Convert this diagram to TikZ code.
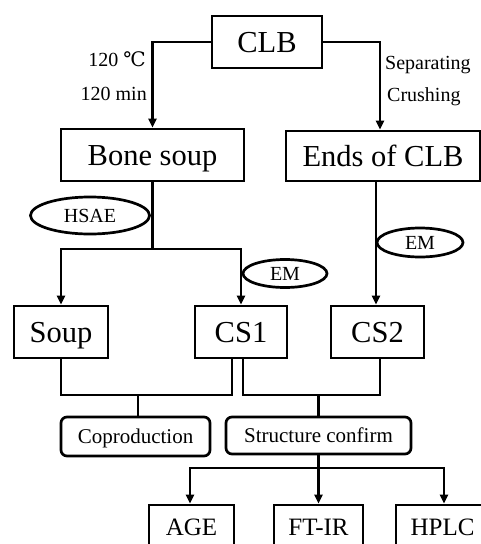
\documentclass[tikz,border=0pt]{standalone}
\usepackage{fontspec}
\setmainfont{Liberation Serif}
\newfontfamily\djv{DejaVu Serif}
\usetikzlibrary{arrows.meta,shapes.geometric,calc}
\tikzset{
  ln/.style={line width=2.7pt},
  arr/.style={ln,-{Triangle[length=9pt,width=8pt]}},
  bigbox/.style={draw,ln,rectangle,inner sep=0pt,text height=20pt,text depth=0pt,font=\fontsize{30.5}{34}\selectfont},
  botbox/.style={draw,ln,rectangle,inner sep=0pt,text height=16.5pt,text depth=0pt,font=\fontsize{25}{28}\selectfont},
  rbox/.style={draw,ln,rectangle,rounded corners=6pt,inner sep=0pt,text height=14pt,text depth=0pt,font=\fontsize{21}{24}\selectfont},
  oval/.style={draw,ln,ellipse,inner sep=0pt,text height=13.2pt,text depth=0pt,font=\fontsize{20}{24}\selectfont},
  lbl/.style={inner sep=0pt,text height=13.2pt,text depth=0pt,font=\fontsize{20}{24}\selectfont}
}
\begin{document}
\begin{tikzpicture}[x=1pt,y=-1pt]
\useasboundingbox (0,0) rectangle (481,544);
\clip (0,0) rectangle (481,544);
% boxes
\node[bigbox,minimum width=110pt,minimum height=52pt] (clb) at (267,42) {CLB};
\node[bigbox,minimum width=183pt,minimum height=52pt] (bone) at (152.5,155) {Bone soup};
\node[bigbox,minimum width=194pt,minimum height=50pt] (ends) at (383,156) {Ends of CLB};
\node[bigbox,minimum width=94pt,minimum height=52pt] (soup) at (61,332) {Soup};
\node[bigbox,minimum width=92pt,minimum height=52pt] (cs1) at (241,332) {CS1};
\node[bigbox,minimum width=93pt,minimum height=52pt] (cs2) at (377.5,332) {CS2};
\node[rbox,minimum width=149pt,minimum height=39pt] (copro) at (135.5,436.5) {Coproduction};
\node[rbox,minimum width=185pt,minimum height=37pt] (struct) at (318.5,435.5) {Structure confirm};
\node[botbox,minimum width=85pt,minimum height=44pt] (age) at (191.5,527) {AGE};
\node[botbox,minimum width=89pt,minimum height=44pt] (ftir) at (318.5,527) {FT-IR};
\node[botbox,minimum width=93pt,minimum height=44pt] (hplc) at (442.5,527) {HPLC};
% labels
\node[lbl,anchor=east] (t1) at (146,60) {120 {\djv ℃}};
\node[lbl,anchor=east] (t2) at (147,94) {120 min};
\node[lbl,anchor=west] (t3) at (385,63) {Separating};
\node[lbl,anchor=west] (t4) at (387,95) {Crushing};
% connectors top
\draw[arr] (clb.west) -| (bone.north);
\coordinate (er) at ([xshift=-3pt]ends.north);
\draw[arr] (clb.east) -| (er);
\coordinate (j1) at (bone.south |- 0,249);
\draw[ln] (bone.south) -- (j1);
\draw[arr] (j1) -| (soup.north);
\draw[arr] (j1) -| (cs1.north);
\coordinate (e2) at (cs2.north |- ends.south);
\draw[arr] ([xshift=-1.5pt]e2) -- ([xshift=-1.5pt]cs2.north);
% ovals
\node[oval,minimum width=119pt,minimum height=37pt] (hsae) at (90,215.5) {HSAE};
\node[oval,minimum width=84pt,minimum height=28pt] (em1) at (285,273.5) {EM};
\node[oval,minimum width=86pt,minimum height=29pt] (em2) at (420,242.5) {EM};
% bottom brackets
\coordinate (c1a) at ([xshift=-9pt]cs1.south);
\coordinate (c1b) at ([xshift=2pt]cs1.south);
\coordinate (c2) at ([xshift=2.5pt]cs2.south);
\draw[ln] (soup.south) -- (soup.south |- 0,395) -- (c1a |- 0,395) -- (c1a);
\draw[ln] (c1b) -- (c1b |- 0,395) -- (c2 |- 0,395) -- (c2);
\coordinate (k1) at ([xshift=2.5pt]copro.north);
\draw[ln] (k1 |- 0,395) -- (k1);
\draw[ln] (struct.north |- 0,395) -- (struct.north);
% bottom tree
\coordinate (j2) at (struct.south |- 0,468);
\draw[ln] (struct.south) -- (j2);
\draw[arr] (j2) -| ([xshift=-1.5pt]age.north);
\draw[arr] (j2) -- (ftir.north);
\draw[arr] (j2) -| ([xshift=1.5pt]hplc.north);
\end{tikzpicture}
\end{document}
